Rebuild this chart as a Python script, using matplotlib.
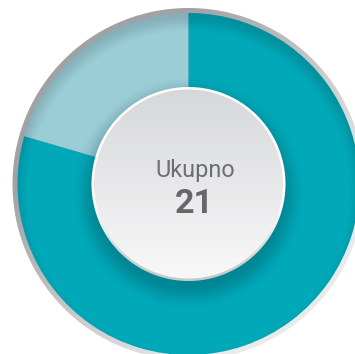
import numpy as np
import matplotlib
matplotlib.use("Agg")
import matplotlib.pyplot as plt

# Ring shares (percent of the full circle) and the centre caption
shares = [20.5, 79.5]
ring_colors = ["#9bcdd7", "#00a8b8"]
caption = "Ukupno"
total = 21

W, H = 355, 354
cx, cy = 188.5, H - 184.0      # donut centre in data units (1 unit = 1 px)
R_BORDER = 176.0                # outer grey bevel
R_RING = 171.0                  # coloured ring
R_DISC = 97.0                   # centre disc incl. its light rim
RIM = 2.5

fig = plt.figure(figsize=(W / 100, H / 100), dpi=100)
ax = fig.add_axes([0, 0, 1, 1])
ax.set_xlim(0, W)
ax.set_ylim(0, H)
ax.axis("off")

# pixel-centre grid in data coordinates
px = np.arange(W) + 0.5
py = H - (np.arange(H) + 0.5)
X, Y = np.meshgrid(px, py)
D = np.hypot(X - cx, Y - cy)


def smooth(e0, e1, v):
    t = np.clip((v - e0) / (e1 - e0), 0, 1)
    return t * t * (3 - 2 * t)


def lerp(c0, c1, t):
    c0 = np.array(c0) / 255.0
    c1 = np.array(c1) / 255.0
    return c0[None, None, :] * (1 - t[..., None]) + c1[None, None, :] * t[..., None]


def layer(rgb, alpha, z):
    img = np.dstack([rgb, alpha])
    ax.imshow(img, extent=(0, W, 0, H), origin="upper", zorder=z,
              interpolation="nearest")


# outer bevel: darker grey top-left, pale bottom-right
t_diag = np.clip(((X - cx) - (Y - cy)) / (2 * R_BORDER) + 0.5, 0, 1)
bevel_rgb = lerp((160, 162, 165), (232, 234, 235), t_diag)
layer(bevel_rgb, np.clip(R_BORDER - D + 0.5, 0, 1), 1)

# ring segments
ax.pie(shares, colors=ring_colors, startangle=90, counterclock=True,
       radius=R_RING, center=(cx, cy), frame=True,
       wedgeprops=dict(linewidth=0, antialiased=True))
ax.set_xlim(0, W)
ax.set_ylim(0, H)
ax.set_aspect("auto")
ax.axis("off")

# soft inner shadow along the top of the ring
d_in = np.hypot(X - cx, Y - (cy - 8))
inner = smooth(R_RING - 12, R_RING + 6, d_in) * np.clip(R_RING - D + 0.5, 0, 1)
layer(np.zeros((H, W, 3)), 0.14 * inner, 3)

# drop shadow under the centre disc
d_sh = np.hypot(X - cx, Y - (cy - 9))
drop = (1 - smooth(R_DISC - 6, R_DISC + 20, d_sh)) * np.clip(R_RING - D + 0.5, 0, 1)
layer(np.full((H, W, 3), [0.0, 0.25, 0.3]), 0.32 * drop, 4)

# centre disc rim (white on top, grey at the bottom)
t_vert = np.clip((cy + R_DISC - Y) / (2 * R_DISC), 0, 1)
rim_rgb = lerp((255, 255, 255), (200, 201, 203), smooth(0.55, 1.0, t_vert))
layer(rim_rgb, np.clip(R_DISC - D + 0.5, 0, 1), 5)

# centre disc face: vertical grey-to-white gradient
face_rgb = lerp((214, 215, 218), (249, 249, 249), t_vert)
layer(face_rgb, np.clip(R_DISC - RIM - D + 0.5, 0, 1), 6)

ax.text(195.5, H - 176.7, caption, ha="center", va="baseline",
        fontsize=16.9, family=["Roboto", "DejaVu Sans"], color="#6d6e71", zorder=10)
ax.text(194.5, H - 213.3, str(total), ha="center", va="baseline",
        fontsize=24.6, fontweight="bold", family=["Roboto", "DejaVu Sans"],
        color="#666769", zorder=10)

fig.savefig("out.png", dpi=100, facecolor="white")
